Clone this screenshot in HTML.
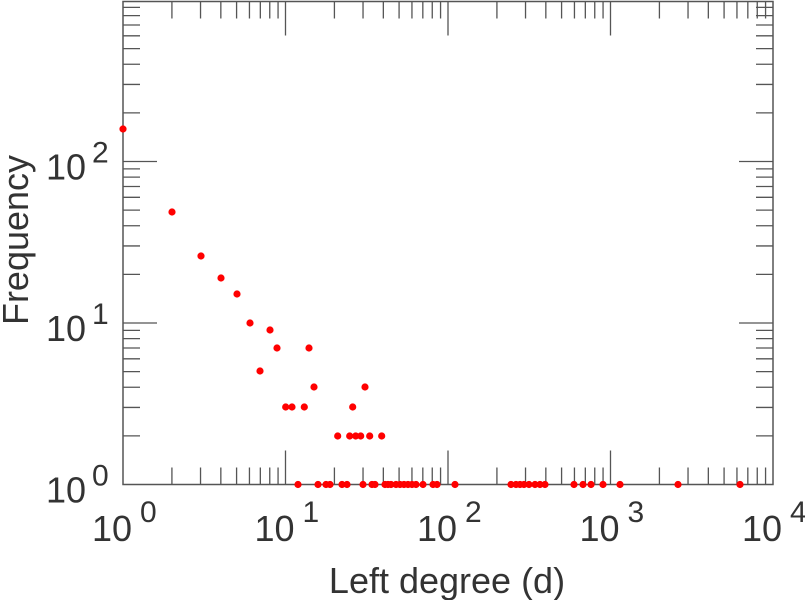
<!DOCTYPE html>
<html><head><style>body{margin:0;background:#fff}svg{display:block}text{font-family:"Liberation Sans",sans-serif;fill:#333}</style></head>
<body>
<svg id="S" width="805" height="600" viewBox="0 0 805 600" xmlns="http://www.w3.org/2000/svg">
<g stroke="#555" stroke-width="1.3" fill="none" id="ticks"></g>
<rect x="123" y="1.5" width="650" height="483" fill="none" stroke="#555" stroke-width="1.5"/>
<text x="28" y="240" font-size="36" transform="rotate(-90 28 240)" text-anchor="middle">Frequency</text>
<text x="447" y="593" font-size="36" text-anchor="middle">Left degree (d)</text>
<g id="lbl"></g>
<g fill="#f00" id="pts"></g>
</svg>
<script>
var ns="http://www.w3.org/2000/svg";
function el(par,tag,a,txt){var e=document.createElementNS(ns,tag);for(var k in a)e.setAttribute(k,a[k]);if(txt!=null)e.textContent=txt;par.appendChild(e);return e;}
var X0=123,DX=162.5,Y0=484.5,DY=161.5,T=1.5,R=773;
var s='';
for(var d=0;d<4;d++)for(var k=1;k<10;k++){var x=X0+DX*(d+Math.log10(k));var L=k==1?34:17;
if(!(d==0&&k==1)){s+='M'+x+' '+Y0+'v-'+L+'M'+x+' '+T+'v'+L;}}
for(var d=0;d<3;d++)for(var k=1;k<10;k++){var y=Y0-DY*(d+Math.log10(k));var L=k==1?34:17;
if(!(d==0&&k==1)){s+='M'+X0+' '+y+'h'+L+'M'+R+' '+y+'h-'+L;}}
el(document.getElementById('ticks'),'path',{d:s});
var lb=document.getElementById('lbl');
for(var d=0;d<=4;d++){var x=X0+DX*d;el(lb,'text',{x:x-31,y:541,'font-size':36},'10');el(lb,'text',{x:x+17,y:522,'font-size':30},''+d);}
for(var d=0;d<=2;d++){var y=Y0-DY*d;el(lb,'text',{x:46,y:y+18,'font-size':36},'10');el(lb,'text',{x:92,y:y+1,'font-size':30},''+d);}
var P=[[123,129],[172,212],[201,256],[221,278],[237,294],[250,323],[260,371],[270,330],[277,348],[285.7,407],[292,407],[304.3,407],[309,348],[314,387],[337.7,436],[349.7,436],[352.7,407],[355.7,436],[360.7,436],[365,387],[369.7,436],[381.7,436]];
[298,318,326,330,342,347,363,372,375,385,388,391,396,400,404,408,412,416,423,433,437,455,511,516,520,524,529,535,540,545,574,583,591,603,620,678,740].forEach(function(x){P.push([x,484.5]);});
var pg=document.getElementById('pts');
P.forEach(function(q){el(pg,'circle',{cx:q[0],cy:q[1],r:3.6});});
</script>
</body></html>
